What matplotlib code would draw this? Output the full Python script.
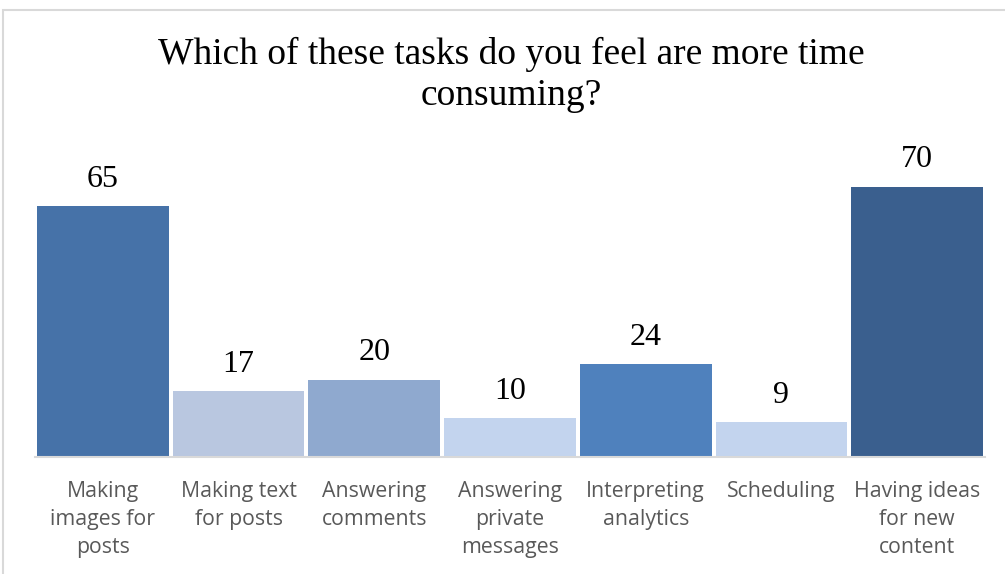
import matplotlib
matplotlib.use("Agg")
import matplotlib.pyplot as plt
from matplotlib.patches import Rectangle

categories = ["Making\nimages for\nposts", "Making text\nfor posts", "Answering\ncomments",
              "Answering\nprivate\nmessages", "Interpreting\nanalytics", "Scheduling",
              "Having ideas\nfor new\ncontent"]
values = [65, 17, 20, 10, 24, 9, 70]
colors = ["#4672A8", "#B9C7E0", "#8FA9CF", "#C3D4EE", "#4F81BD", "#C3D4EE", "#3A5F8E"]
title = "Which of these tasks do you feel are more time\nconsuming?"

W, H = 1005, 574
fig = plt.figure(figsize=(W/100, H/100), dpi=100)
fig.patch.set_facecolor("white")

# chart border
fig.patches.append(Rectangle((3/W, -0.1), 1.2, 1 - 10/H + 0.1, transform=fig.transFigure,
                             fill=False, edgecolor="#D9D9D9", linewidth=1.5))

ax_left, ax_right = 35/W, 985/W
ax_bottom = (H - 457)/H
ax_top = (H - 148.4)/H
ax = fig.add_axes([ax_left, ax_bottom, ax_right - ax_left, ax_top - ax_bottom])
x = list(range(len(values)))
bars = ax.bar(x, values, width=0.97, color=colors, edgecolor="none")
ax.set_xlim(-0.5, len(values) - 0.5)
ax.set_ylim(0, 80)
for s in ["top", "right", "left"]:
    ax.spines[s].set_visible(False)
ax.spines["bottom"].set_color("#D9D9D9")
ax.spines["bottom"].set_linewidth(1.5)
ax.set_yticks([])
ax.set_xticks(x)
ax.set_xticklabels(categories, fontfamily="Open Sans", fontsize=15.3, color="#595959",
                   linespacing=1.46)
ax.tick_params(axis="x", length=0, pad=17)

for xi, v in zip(x, values):
    ax.annotate(str(v), (xi, v), xytext=(0, 9), textcoords="offset points",
                ha="center", va="bottom", fontfamily="Liberation Serif", fontsize=23,
                color="black")

fig.text(511/W, 1 - 75/H, title, ha="center", va="center", fontfamily="Liberation Serif",
         fontsize=27, color="black", linespacing=1.22)

fig.savefig("out.png", dpi=100)
